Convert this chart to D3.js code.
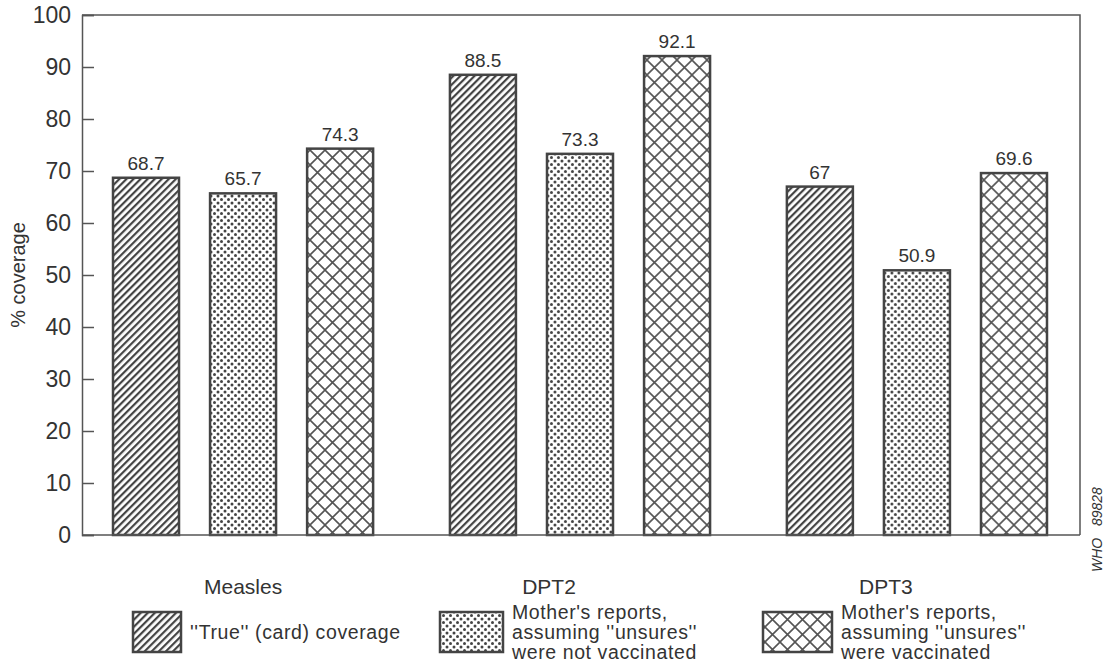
<!DOCTYPE html>
<html>
<head>
<meta charset="utf-8">
<script src="https://cdn.jsdelivr.net/npm/d3@7"></script>
<style>
  body { margin: 0; background: #fff; }
  text { fill: #333; }
</style>
</head>
<body>
<div id="chart"></div>
<script>
// vaccination coverage, grouped bars with hatch patterns

const categories = ["Measles", "DPT2", "DPT3"];
const series = ["card", "notVacc", "vacc"];
const cardCoverage = [68.7, 88.5, 67];
const unsureNotVaccinated = [65.7, 73.3, 50.9];
const unsureVaccinated = [74.3, 92.1, 69.6];
const yTicks = [0, 10, 20, 30, 40, 50, 60, 70, 80, 90, 100];
const legendLabels = [
	["''True'' (card) coverage"],
	["Mother's reports,", "assuming ''unsures''", "were not vaccinated"],
	["Mother's reports,", "assuming ''unsures''", "were vaccinated"]
];

main();

function main() {
	const width = 1111;
	const height = 669;
	const ink = "#444";

	const rows = categories.map((c, i) => ({
		category: c,
		values: [cardCoverage[i], unsureNotVaccinated[i], unsureVaccinated[i]]
	}));

	const svg = d3.select("#chart").append("svg")
		.attr("width", width)
		.attr("height", height)
		.attr("viewBox", [0, 0, width, height]);

	// patterns
	const defs = svg.append("defs");
	const hatch = defs.append("pattern")
		.attr("id", "p-card")
		.attr("patternUnits", "userSpaceOnUse")
		.attr("width", 5).attr("height", 5)
		.attr("patternTransform", "rotate(45)");
	hatch.append("rect").attr("width", 5).attr("height", 5).attr("fill", "#fff");
	hatch.append("line")
		.attr("x1", 0).attr("y1", 0).attr("x2", 0).attr("y2", 5)
		.attr("stroke", ink).attr("stroke-width", 4.4);

	const dots = defs.append("pattern")
		.attr("id", "p-notVacc")
		.attr("patternUnits", "userSpaceOnUse")
		.attr("width", 7).attr("height", 7);
	dots.append("rect").attr("width", 7).attr("height", 7).attr("fill", "#fff");
	[[0, 0], [7, 0], [0, 7], [7, 7], [3.5, 3.5]].forEach(([cx, cy]) => {
		dots.append("circle").attr("cx", cx).attr("cy", cy).attr("r", 1.5).attr("fill", ink);
	});

	const cross = defs.append("pattern")
		.attr("id", "p-vacc")
		.attr("patternUnits", "userSpaceOnUse")
		.attr("width", 15).attr("height", 15)
		.attr("x", 2).attr("y", 0);
	cross.append("rect").attr("width", 15).attr("height", 15).attr("fill", "#fff");
	cross.append("path")
		.attr("d", "M0,0L15,15M15,0L0,15")
		.attr("stroke", "#555").attr("stroke-width", 1.6).attr("fill", "none");

	// scales
	const y = d3.scaleLinear().domain([0, 100]).range([535, 15]);
	const x0 = d3.scaleBand().domain(categories).range([113, 1047])
		.paddingInner(0.228).paddingOuter(0);
	const x1 = d3.scaleBand().domain(series).range([0, x0.bandwidth()])
		.paddingInner(0.32).paddingOuter(0);

	// frame
	svg.append("path")
		.attr("d", `M82,${y(100)}H1080V${y(0)}`)
		.attr("fill", "none").attr("stroke", "#555").attr("stroke-width", 1.5);

	// y axis
	const yAxis = d3.axisRight(y).tickValues(yTicks).tickSize(12).tickFormat("");
	svg.append("g")
		.attr("transform", "translate(82,0)")
		.call(yAxis)
		.call(g => g.select(".domain").attr("stroke", "#555").attr("stroke-width", 1.5))
		.call(g => g.selectAll(".tick line").attr("stroke", "#555").attr("stroke-width", 1.5));

	svg.append("g")
		.selectAll("text")
		.data(yTicks)
		.join("text")
			.attr("x", 71)
			.attr("y", d => y(d))
			.attr("dy", "0.36em")
			.attr("text-anchor", "end")
			.attr("font-family", "'Liberation Sans Narrow', 'Liberation Sans', sans-serif")
			.attr("font-size", 23)
			.text(d => d);

	svg.append("text")
		.attr("transform", `translate(25,${(y(0) + y(100)) / 2}) rotate(-90)`)
		.attr("text-anchor", "middle")
		.attr("font-family", "'Liberation Sans', sans-serif")
		.attr("font-size", 20)
		.text("% coverage");

	// bars
	const groups = svg.append("g")
		.selectAll("g")
		.data(rows)
		.join("g")
			.attr("transform", d => `translate(${x0(d.category)},0)`);

	groups.selectAll("rect")
		.data(d => d.values.map((v, i) => ({ key: series[i], value: v })))
		.join("rect")
			.attr("x", d => x1(d.key))
			.attr("y", d => y(d.value))
			.attr("width", x1.bandwidth())
			.attr("height", d => y(0) - y(d.value))
			.attr("fill", d => `url(#p-${d.key})`)
			.attr("stroke", ink)
			.attr("stroke-width", 2.5);

	groups.selectAll("text")
		.data(d => d.values.map((v, i) => ({ key: series[i], value: v })))
		.join("text")
			.attr("x", d => x1(d.key) + x1.bandwidth() / 2)
			.attr("y", d => y(d.value) - 8)
			.attr("text-anchor", "middle")
			.attr("font-family", "'Liberation Sans', sans-serif")
			.attr("font-size", 19)
			.text(d => d.value);

	// baseline
	svg.append("line")
		.attr("x1", 82).attr("x2", 1080)
		.attr("y1", y(0)).attr("y2", y(0))
		.attr("stroke", "#555").attr("stroke-width", 1.5);

	// category labels (the original sets them a bit off-centre)
	const labelShift = [0, -31, -31];
	svg.append("g")
		.selectAll("text")
		.data(categories)
		.join("text")
			.attr("x", (d, i) => x0(d) + x1("notVacc") + x1.bandwidth() / 2 + labelShift[i])
			.attr("y", 594)
			.attr("text-anchor", "middle")
			.attr("font-family", "'Liberation Sans', sans-serif")
			.attr("font-size", 21)
			.text(d => d);

	// legend
	const legendBoxes = [
		{ x: 133, w: 48 },
		{ x: 440, w: 63 },
		{ x: 763, w: 69 }
	];
	const legend = svg.append("g")
		.selectAll("g")
		.data(series)
		.join("g")
			.attr("transform", (d, i) => `translate(${legendBoxes[i].x},612)`);

	legend.append("rect")
		.attr("width", (d, i) => legendBoxes[i].w)
		.attr("height", 40)
		.attr("fill", d => `url(#p-${d})`)
		.attr("stroke", ink)
		.attr("stroke-width", 2.5);

	legend.append("text")
		.attr("font-family", "'Liberation Sans', sans-serif")
		.attr("font-size", 19.5)
		.attr("letter-spacing", 0.6)
		.selectAll("tspan")
		.data((d, i) => legendLabels[i].map(t => ({ t, i, n: legendLabels[i].length })))
		.join("tspan")
			.attr("x", d => legendBoxes[d.i].w + 9)
			.attr("y", (d, j) => d.n === 1 ? 27 : 7 + j * 20)
			.text(d => d.t);

	// plate reference
	svg.append("text")
		.attr("transform", "translate(1102,572) rotate(-90)")
		.attr("font-family", "'Liberation Sans', sans-serif")
		.attr("font-style", "italic")
		.attr("font-size", 14)
		.attr("xml:space", "preserve")
		.text("WHO   89828");
}
</script>
</body>
</html>
